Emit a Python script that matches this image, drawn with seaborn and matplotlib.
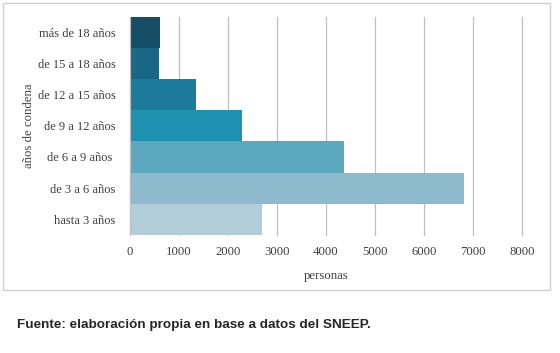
import pandas as pd
import seaborn as sns
import matplotlib.pyplot as plt
from matplotlib.patches import Rectangle

# data
categorias = ["más de 18 años", "de 15 a 18 años", "de 12 a 15 años", "de 9 a 12 años",
              "de 6 a 9 años ", "de 3 a 6 años", "hasta 3 años"]
personas = [620, 600, 1345, 2285, 4365, 6820, 2700]
colores = ["#164E67", "#1A6685", "#1C7B9A", "#2092B1", "#5BA8BF", "#8EBACD", "#B1CDDA"]
xticks = [0, 1000, 2000, 3000, 4000, 5000, 6000, 7000, 8000]

df = pd.DataFrame({"categoria": categorias, "personas": personas})

sns.set_style("white")
plt.rcParams["font.family"] = ["Liberation Serif", "DejaVu Serif"]

fig = plt.figure(figsize=(5.6, 3.53), dpi=100)
ax = fig.add_axes([129.7 / 560, 1 - 234.7 / 353, (522.3 - 129.7) / 560, (234.7 - 17) / 353])

sns.barplot(data=df, x="personas", y="categoria", hue="categoria", palette=colores,
            orient="h", width=1.0, legend=False, ax=ax, saturation=1, edgecolor="none")

ax.set_xlim(0, 8000)
ax.set_xticks(xticks)
ax.xaxis.grid(True, color="#BFBFBF", linewidth=0.9)
for gl in ax.get_xgridlines():
    gl.set_clip_on(False)
ax.set_axisbelow(True)
for s in ["top", "right", "bottom"]:
    ax.spines[s].set_visible(False)
ax.spines["left"].set_color("#BFBFBF")
ax.tick_params(axis="both", length=0, colors="#404040")
ax.tick_params(axis="y", pad=10, labelsize=9)
ax.tick_params(axis="x", pad=8, labelsize=9.2)
ax.set_xlabel("personas", fontsize=9.2, color="#404040", labelpad=9)
ax.set_ylabel("años de condena", fontsize=9.2, color="#404040", labelpad=2)

# outer chart border
fig.patches.append(Rectangle((3 / 560, 1 - 290 / 353), 547 / 560, 287 / 353,
                             transform=fig.transFigure, fill=False,
                             edgecolor="#D0D0D0", linewidth=1))

fig.text(17 / 560, 1 - 325 / 353, "Fuente: elaboración propia en base a datos del SNEEP.",
         fontsize=9.7, fontweight="bold", family=["Liberation Sans", "DejaVu Sans"],
         va="center", ha="left")

fig.savefig("out.png", dpi=100)
